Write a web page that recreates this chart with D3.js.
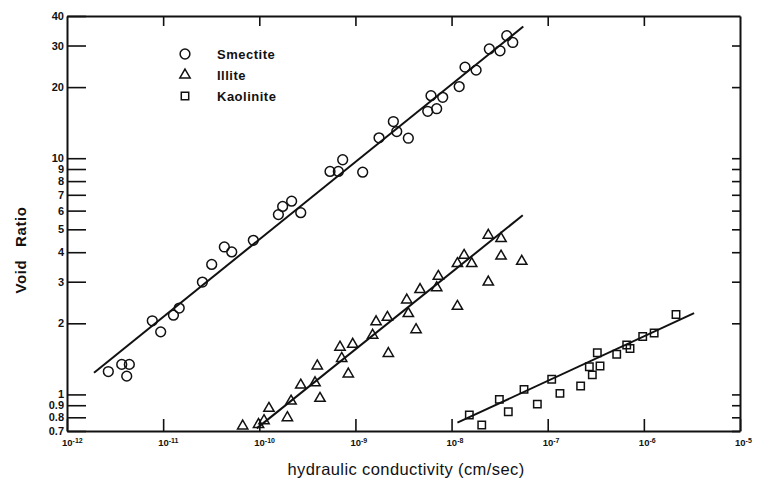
<!DOCTYPE html>
<html>
<head>
<meta charset="utf-8">
<script src="https://cdn.jsdelivr.net/npm/d3@7"></script>
<style>
  body { margin: 0; background: #fff; }
  svg { display: block; font-family: "Liberation Sans", Arial, sans-serif; }
  .axis path, .axis line { stroke: #111; }
  .axis path { stroke-width: 2; }
  .axis line { stroke-width: 1.6; }
</style>
</head>
<body>
<script>
// hydraulic conductivity (cm/sec) vs void ratio
const smectite = [
  [2.69e-12, 1.25], [3.71e-12, 1.34], [4.45e-12, 1.34], [4.18e-12, 1.195],
  [7.71e-12, 2.05], [9.43e-12, 1.84], [1.28e-11, 2.165], [1.47e-11, 2.32],
  [2.56e-11, 2.99], [3.20e-11, 3.55], [4.33e-11, 4.21], [5.17e-11, 4.01],
  [8.67e-11, 4.49], [1.58e-10, 5.77], [1.75e-10, 6.25], [2.17e-10, 6.58],
  [2.70e-10, 5.88], [5.44e-10, 8.79], [6.64e-10, 8.79], [7.37e-10, 9.85],
  [1.19e-9, 8.73], [1.76e-9, 12.2], [2.48e-9, 14.3], [2.69e-9, 12.97],
  [3.55e-9, 12.15], [5.65e-9, 15.8], [6.11e-9, 18.4], [7.00e-9, 16.2],
  [8.09e-9, 18.1], [1.20e-8, 20.1], [1.38e-8, 24.3], [1.80e-8, 23.6],
  [2.47e-8, 29.0], [3.19e-8, 28.5], [3.75e-8, 33.0], [4.33e-8, 30.9]
];
const illite = [
  [6.72e-11, 0.735], [9.82e-11, 0.746], [1.12e-10, 0.774], [1.26e-10, 0.873],
  [1.96e-10, 0.797], [2.14e-10, 0.937], [2.70e-10, 1.095], [3.80e-10, 1.12],
  [4.01e-10, 1.32], [4.28e-10, 0.962], [6.91e-10, 1.585], [7.20e-10, 1.42],
  [8.43e-10, 1.22], [9.37e-10, 1.63], [1.51e-9, 1.78], [1.64e-9, 2.03],
  [2.15e-9, 2.12], [2.20e-9, 1.49], [3.42e-9, 2.51], [3.55e-9, 2.20],
  [4.27e-9, 1.88], [4.70e-9, 2.78], [7.00e-9, 2.83], [7.28e-9, 3.16],
  [1.15e-8, 2.36], [1.15e-8, 3.58], [1.35e-8, 3.88], [1.62e-8, 3.58],
  [2.41e-8, 2.99], [2.41e-8, 4.72], [3.27e-8, 4.57], [3.27e-8, 3.85],
  [5.37e-8, 3.66]
];
const kaolinite = [
  [1.53e-8, 0.818], [2.06e-8, 0.742], [3.14e-8, 0.953], [3.89e-8, 0.845],
  [5.67e-8, 1.05], [7.80e-8, 0.91], [1.10e-7, 1.16], [1.34e-7, 1.01],
  [2.20e-7, 1.085], [2.71e-7, 1.31], [2.91e-7, 1.21], [3.28e-7, 1.50],
  [3.50e-7, 1.32], [5.22e-7, 1.48], [6.63e-7, 1.62], [7.18e-7, 1.565],
  [9.73e-7, 1.76], [1.28e-6, 1.82], [2.16e-6, 2.18]
];
// fitted lines (end points)
const smectiteFit = [[1.91e-12, 1.235], [5.57e-8, 36.1]];
const illiteFit = [[9.40e-11, 0.718], [5.50e-8, 5.73]];
const kaoliniteFit = [[1.15e-8, 0.759], [3.33e-6, 2.21]];

const xTicks = [1e-12, 1e-11, 1e-10, 1e-9, 1e-8, 1e-7, 1e-6, 1e-5];
const yTicks = [0.7, 0.8, 0.9, 1, 2, 3, 4, 5, 6, 7, 8, 9, 10, 20, 30, 40];
const legendNames = ["Smectite", "Illite", "Kaolinite"];

const width = 758, height = 495;
const pad = { left: 67, right: 740, top: 16, bottom: 431 };

const svg = d3.select("body").append("svg")
  .attr("width", width).attr("height", height);

const x = d3.scaleLog().domain([1e-12, 1e-5]).range([pad.left, pad.right]);
const y = d3.scaleLog().domain([0.7, 40]).range([pad.bottom, pad.top]);

// bottom axis, ticks pointing in
const xAxis = svg.append("g").attr("class", "axis")
  .attr("transform", `translate(0,${pad.bottom})`)
  .call(d3.axisBottom(x).tickValues(xTicks).tickSizeInner(-12).tickSizeOuter(0).tickPadding(7).tickFormat(""));
xAxis.selectAll(".tick text").each(function (d) {
  const t = d3.select(this)
    .attr("font-size", 9.5).attr("font-weight", "bold").attr("fill", "#111")
    .attr("text-anchor", "start").attr("x", -5.5)
    .attr("dy", "0.85em");
  t.append("tspan").text("10");
  t.append("tspan").attr("font-size", 7).attr("dy", "-0.4em").text("-" + Math.round(-Math.log10(d)));
});

// top axis
svg.append("g").attr("class", "axis")
  .attr("transform", `translate(0,${pad.top})`)
  .call(d3.axisTop(x).tickValues(xTicks.slice(1, -1)).tickSizeInner(-10).tickSizeOuter(0).tickFormat(""));

// left axis
svg.append("g").attr("class", "axis")
  .attr("transform", `translate(${pad.left},0)`)
  .call(d3.axisLeft(y).tickValues(yTicks).tickSizeInner(-19).tickSizeOuter(0).tickPadding(3)
    .tickFormat(d => d))
  .selectAll(".tick text")
  .attr("font-size", 11).attr("font-weight", "bold").attr("fill", "#111");

// right axis
svg.append("g").attr("class", "axis")
  .attr("transform", `translate(${pad.right},0)`)
  .call(d3.axisRight(y).tickValues(yTicks.slice(0, -1)).tickSizeInner(-8).tickSizeOuter(0).tickFormat(""));

// fit lines
const line = d3.line().x(d => x(d[0])).y(d => y(d[1]));
[smectiteFit, illiteFit, kaoliniteFit].forEach(f => {
  svg.append("path").attr("d", line(f))
    .attr("fill", "none").attr("stroke", "#111").attr("stroke-width", 2);
});

const markStyle = sel => sel.attr("fill", "none").attr("stroke", "#111").attr("stroke-width", 1.5);
const circle = d3.symbol().type(d3.symbolCircle).size(75);
const triangle = d3.symbol().type(d3.symbolTriangle).size(46);
const square = d3.symbol().type(d3.symbolSquare).size(55);

function drawPoints(data, sym) {
  svg.append("g").selectAll("path").data(data).enter().append("path")
    .attr("d", sym)
    .attr("transform", d => `translate(${x(d[0])},${y(d[1])})`)
    .call(markStyle);
}
drawPoints(smectite, circle);
drawPoints(illite, triangle);
drawPoints(kaolinite, square);

// legend
const legend = svg.append("g").attr("transform", "translate(185,54)");
[circle, triangle, square].forEach((s, i) => {
  legend.append("path").attr("d", s).attr("transform", `translate(0,${i * 21})`).call(markStyle);
  legend.append("text").attr("x", 32).attr("y", i * 21 + 5)
    .attr("font-size", 13).attr("font-weight", "bold").attr("fill", "#111")
    .attr("letter-spacing", 0.5)
    .text(legendNames[i]);
});

// axis titles
svg.append("text")
  .attr("transform", "rotate(-90)")
  .attr("x", -250).attr("y", 26)
  .attr("text-anchor", "middle")
  .attr("font-size", 15).attr("font-weight", "bold").attr("fill", "#111")
  .attr("letter-spacing", 0.6).attr("word-spacing", 8)
  .text("Void Ratio");

svg.append("text")
  .attr("x", 406).attr("y", 475)
  .attr("text-anchor", "middle")
  .attr("font-size", 16.5).attr("fill", "#111")
  .attr("letter-spacing", 0.4)
  .text("hydraulic conductivity (cm/sec)");
</script>
</body>
</html>
